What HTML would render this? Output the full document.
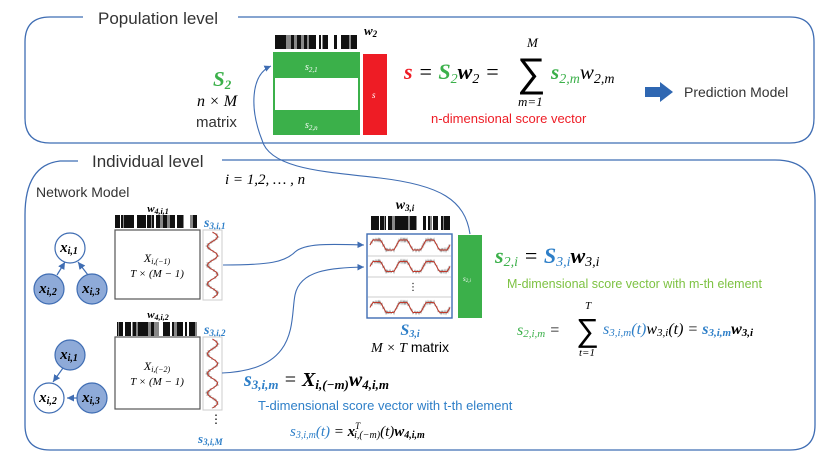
<!DOCTYPE html>
<html><head><meta charset="utf-8"><style>
html,body{margin:0;padding:0;background:#fff}
svg{display:block}
text{font-family:"Liberation Sans","DejaVu Sans",sans-serif}
.m,.m text{font-family:"Liberation Serif","DejaVu Serif",serif;font-style:italic}
.b,.b text{font-weight:bold}
</style></head><body>
<svg id="s" width="840" height="464" viewBox="0 0 840 464" xmlns="http://www.w3.org/2000/svg">
<defs><marker id="ar" markerWidth="8" markerHeight="8" refX="6" refY="3" orient="auto"><path d="M0,0 L6,3 L0,6 z" fill="#3f6db3"/></marker></defs>
<path d="M83,17 H50 Q25,17 25,42 V118 Q25,143 50,143 H790 Q814,143 814,118 V42 Q814,17 790,17 H238" fill="none" stroke="#3f6db3" stroke-width="1.3"/>
<text x="98" y="24" font-size="17" fill="#333">Population level</text>
<path d="M78,161 H60 Q25,165 25,215 V425 Q25,450 50,450 H790 Q815,450 815,425 V200 Q815,160 775,160 H222" fill="none" stroke="#3f6db3" stroke-width="1.3"/>
<text x="92" y="167" font-size="17" fill="#333">Individual level</text>
<text x="36" y="197" font-size="14" fill="#333">Network Model</text>
<text x="225" y="184" font-size="15" class="m">i = 1,2, … , n</text>

<text x="213" y="86" font-size="21" class="m b" fill="#3bb04a">S<tspan font-size="13" dy="3">2</tspan></text>
<text x="197" y="106" font-size="16" class="m">n × M</text>
<text x="196" y="127" font-size="15" fill="#333">matrix</text>
<g id="bc1"></g>
<text x="364" y="35" font-size="13" class="m b">w<tspan font-size="9" dy="2">2</tspan></text>
<rect x="273" y="52" width="87" height="83" fill="#3bb04a"/>
<rect x="275" y="78" width="83" height="32" fill="#fff"/>
<text x="305" y="70" font-size="10" class="m" fill="#fff">s<tspan font-size="7" dy="2">2,1</tspan></text>
<text x="305" y="128" font-size="10" class="m" fill="#fff">s<tspan font-size="7" dy="2">2,n</tspan></text>
<rect x="363" y="54" width="24" height="81" fill="#ee1c25"/>
<text x="372" y="98" font-size="9" class="m" fill="#fff">s</text>

<text x="404" y="79" font-size="22" class="m"><tspan class="b" fill="#ee1c25">s</tspan> = <tspan class="b" fill="#3bb04a">S</tspan><tspan font-size="14" dy="4" fill="#3bb04a">2</tspan><tspan class="b" dy="-4">w</tspan><tspan font-size="14" dy="4">2</tspan><tspan dy="-4"> =</tspan></text>
<text x="517" y="86" font-size="40" font-family="DejaVu Serif,serif">∑</text>
<text x="527" y="47" font-size="13" class="m">M</text>
<text x="518" y="106" font-size="13" class="m">m=1</text>
<text x="551" y="79" font-size="21" class="m"><tspan class="b" fill="#3bb04a">s</tspan><tspan font-size="14" dy="4" fill="#3bb04a">2,m</tspan><tspan dy="-4">w</tspan><tspan font-size="14" dy="4">2,m</tspan></text>
<text x="431" y="123" font-size="13" fill="#ee1c25">n-dimensional score vector</text>
<path d="M645,87 H660 V82 L673,92 L660,102 V97 H645 Z" fill="#2f67b2"/>
<text x="684" y="97" font-size="14" fill="#333">Prediction Model</text>

<g stroke="#3f6db3" stroke-width="1.2">
<line x1="57" y1="275" x2="65" y2="262" marker-end="url(#ar)"/>
<line x1="88" y1="275" x2="78" y2="262" marker-end="url(#ar)"/>
<circle cx="70" cy="248" r="15" fill="#fff"/>
<circle cx="49" cy="289" r="15" fill="#8eaad8"/>
<circle cx="92" cy="289" r="15" fill="#8eaad8"/>
<line x1="63" y1="368" x2="53" y2="382" marker-end="url(#ar)"/>
<line x1="77" y1="398" x2="67" y2="398" marker-end="url(#ar)"/>
<circle cx="70" cy="355" r="15" fill="#8eaad8"/>
<circle cx="49" cy="398" r="15" fill="#fff"/>
<circle cx="92" cy="398" r="15" fill="#8eaad8"/>
</g>
<g font-size="15" class="m b" text-anchor="middle">
<text x="69" y="252">x<tspan font-size="10" dy="2">i,1</tspan></text>
<text x="48" y="293">x<tspan font-size="10" dy="2">i,2</tspan></text>
<text x="91" y="293">x<tspan font-size="10" dy="2">i,3</tspan></text>
<text x="69" y="359">x<tspan font-size="10" dy="2">i,1</tspan></text>
<text x="48" y="402">x<tspan font-size="10" dy="2">i,2</tspan></text>
<text x="91" y="402">x<tspan font-size="10" dy="2">i,3</tspan></text>
</g>

<rect x="115" y="230" width="85" height="69" fill="#fff" stroke="#555" stroke-width="1.2"/>
<rect x="115" y="337" width="85" height="72" fill="#fff" stroke="#555" stroke-width="1.2"/>
<text x="158" y="212" font-size="11" class="m b" text-anchor="middle">w<tspan font-size="8" dy="2">4,i,1</tspan></text>
<text x="158" y="318" font-size="11" class="m b" text-anchor="middle">w<tspan font-size="8" dy="2">4,i,2</tspan></text>
<text x="157" y="262" font-size="12" class="m" text-anchor="middle">X<tspan font-size="8" dy="2">i,(−1)</tspan></text>
<text x="157" y="277" font-size="11" class="m" text-anchor="middle">T × (M − 1)</text>
<text x="157" y="370" font-size="12" class="m" text-anchor="middle">X<tspan font-size="8" dy="2">i,(−2)</tspan></text>
<text x="157" y="385" font-size="11" class="m" text-anchor="middle">T × (M − 1)</text>
<text x="204" y="227" font-size="14" class="m b" fill="#2e7fc8">s<tspan font-size="9" dy="2">3,i,1</tspan></text>
<text x="204" y="334" font-size="14" class="m b" fill="#2e7fc8">s<tspan font-size="9" dy="2">3,i,2</tspan></text>
<rect x="203" y="230" width="19" height="70" fill="#fff" stroke="#ccc"/>
<rect x="203" y="337" width="19" height="73" fill="#fff" stroke="#ccc"/>
<g id="vw"></g>
<text x="210" y="423" font-size="12">⋮</text>
<text x="198" y="443" font-size="13" class="m b" fill="#2e7fc8">s<tspan font-size="9" dy="2">3,i,M</tspan></text>

<text x="405" y="209" font-size="14" class="m b" text-anchor="middle">w<tspan font-size="9" dy="2">3,i</tspan></text>
<rect x="367" y="234" width="85" height="84" fill="#fff" stroke="#3f6db3" stroke-width="1.4"/>
<g stroke="#ccc"><line x1="368" y1="256" x2="451" y2="256"/><line x1="368" y1="277" x2="451" y2="277"/><line x1="368" y1="297" x2="451" y2="297"/></g>
<g id="hw"></g>
<text x="408" y="290" font-size="10">⋮</text>
<rect x="458" y="235" width="24" height="83" fill="#3bb04a"/>
<text x="463" y="281" font-size="7" class="m" fill="#fff">s<tspan font-size="5" dy="1">2,i</tspan></text>
<text x="410" y="335" font-size="16" class="m b" fill="#2e7fc8" text-anchor="middle">S<tspan font-size="10" dy="2">3,i</tspan></text>
<text x="410" y="352" font-size="14" text-anchor="middle"><tspan font-family="Liberation Serif,serif" font-style="italic">M × T</tspan> matrix</text>

<text x="495" y="263" font-size="22" class="m"><tspan class="b" fill="#3bb04a">s</tspan><tspan font-size="14" dy="3" fill="#3bb04a">2,i</tspan><tspan dy="-3"> = </tspan><tspan class="b" fill="#2e7fc8">S</tspan><tspan font-size="14" dy="3" fill="#2e7fc8">3,i</tspan><tspan class="b" dy="-3">w</tspan><tspan font-size="14" dy="3">3,i</tspan></text>
<text x="507" y="288" font-size="12.5" fill="#7dc242">M-dimensional score vector with m-th element</text>
<text x="517" y="335" font-size="16" class="m"><tspan fill="#3bb04a">s</tspan><tspan font-size="11" dy="2" fill="#3bb04a">2,i,m</tspan><tspan dy="-2"> =</tspan></text>
<text x="576" y="341" font-size="32" font-family="DejaVu Serif,serif">∑</text>
<text x="585" y="309" font-size="11" class="m">T</text>
<text x="579" y="356" font-size="11" class="m">t=1</text>
<text x="603" y="334" font-size="16" class="m"><tspan fill="#2e7fc8">s</tspan><tspan font-size="11" dy="2" fill="#2e7fc8">3,i,m</tspan><tspan dy="-2" fill="#2e7fc8">(t)</tspan>w<tspan font-size="11" dy="2">3,i</tspan><tspan dy="-2">(t) = </tspan><tspan class="b" fill="#2e7fc8">s</tspan><tspan font-size="11" dy="2" fill="#2e7fc8" class="b">3,i,m</tspan><tspan dy="-2" class="b">w</tspan><tspan font-size="11" dy="2" class="b">3,i</tspan></text>

<text x="244" y="386" font-size="20" class="m b"><tspan fill="#2e7fc8">s</tspan><tspan font-size="13" dy="3" fill="#2e7fc8">3,i,m</tspan><tspan dy="-3" font-weight="normal"> = </tspan>X<tspan font-size="13" dy="3">i,(−m)</tspan><tspan dy="-3">w</tspan><tspan font-size="13" dy="3">4,i,m</tspan></text>
<text x="258" y="410" font-size="13" fill="#2e7fc8">T-dimensional score vector with t-th element</text>
<text x="290" y="436" font-size="15" class="m"><tspan fill="#2e7fc8">s</tspan><tspan font-size="10" dy="2" fill="#2e7fc8">3,i,m</tspan><tspan dy="-2" fill="#2e7fc8">(t)</tspan> = <tspan class="b">x</tspan><tspan font-size="9" dy="-7">T</tspan><tspan font-size="10" dx="-6" dy="9">i,(−m)</tspan><tspan dy="-2">(t)</tspan><tspan class="b">w</tspan><tspan font-size="10" dy="2" class="b">4,i,m</tspan></text>

<g fill="none" stroke="#3f6db3" stroke-width="1.1">
<path d="M223,265 C270,265 285,262 295,252 C305,243 330,244 364,245" marker-end="url(#ar)"/>
<path d="M222,373 C300,370 290,320 295,295 C300,270 330,268 364,267" marker-end="url(#ar)"/>
<path d="M470,234 C465,200 440,185 380,178 C330,172 270,170 262,140 C250,110 250,75 271,66" marker-end="url(#ar)"/>
</g>
</svg>
<script>
(function(){
var ns="http://www.w3.org/2000/svg";
function bc(g,x,y,w,h,seed){var s=seed;function r(){s=(s*9301+49297)%233280;return s/233280;}
var cx=x;while(cx<x+w){var bw=1+Math.floor(r()*3);if(cx+bw>x+w)bw=x+w-cx;var v=r();var c=v<0.6?"#111":(v<0.8?"#888":"#fff");
var e=document.createElementNS(ns,"rect");e.setAttribute("x",cx);e.setAttribute("y",y);e.setAttribute("width",bw);e.setAttribute("height",h);e.setAttribute("fill",c);g.appendChild(e);cx+=bw;}}
var g=document.getElementById("bc1");
bc(g,275,35,83,14,3);bc(g,115,215,82,13,7);bc(g,115,322,82,14,11);bc(g,368,216,82,14,17);
function add(par,d,red){var e=document.createElementNS(ns,"path");e.setAttribute("d",d);e.setAttribute("fill","none");e.setAttribute("stroke",red?"#c0392b":"#999");e.setAttribute("stroke-width",red?"1":"0.7");par.appendChild(e);}
var hw=document.getElementById("hw");
[[236,254],[258,275],[299,316]].forEach(function(p){
 for(var j=2;j>=0;j--){var d="";for(var i=0;i<=80;i++){var x=370+i;var sv=Math.sin((i/80)*Math.PI*6);var yy=(p[0]+p[1])/2-5*Math.max(-1,Math.min(1,sv*1.6))+(j?(Math.sin(i*(j+2))*1.8):0);d+=(i?"L":"M")+x+","+yy.toFixed(1);}add(hw,d,j==0);}
});
var vw=document.getElementById("vw");
[[232,298],[339,408]].forEach(function(p){
 for(var j=2;j>=0;j--){var d="";var n=p[1]-p[0];for(var i=0;i<=n;i++){var y=p[0]+i;var x=212.5+5*Math.sin(i/n*Math.PI*7)+(j?Math.sin(i*(j+2))*1.5:0);d+=(i?"L":"M")+x.toFixed(1)+","+y;}add(vw,d,j==0);}
});
})();
</script>
</body></html>
